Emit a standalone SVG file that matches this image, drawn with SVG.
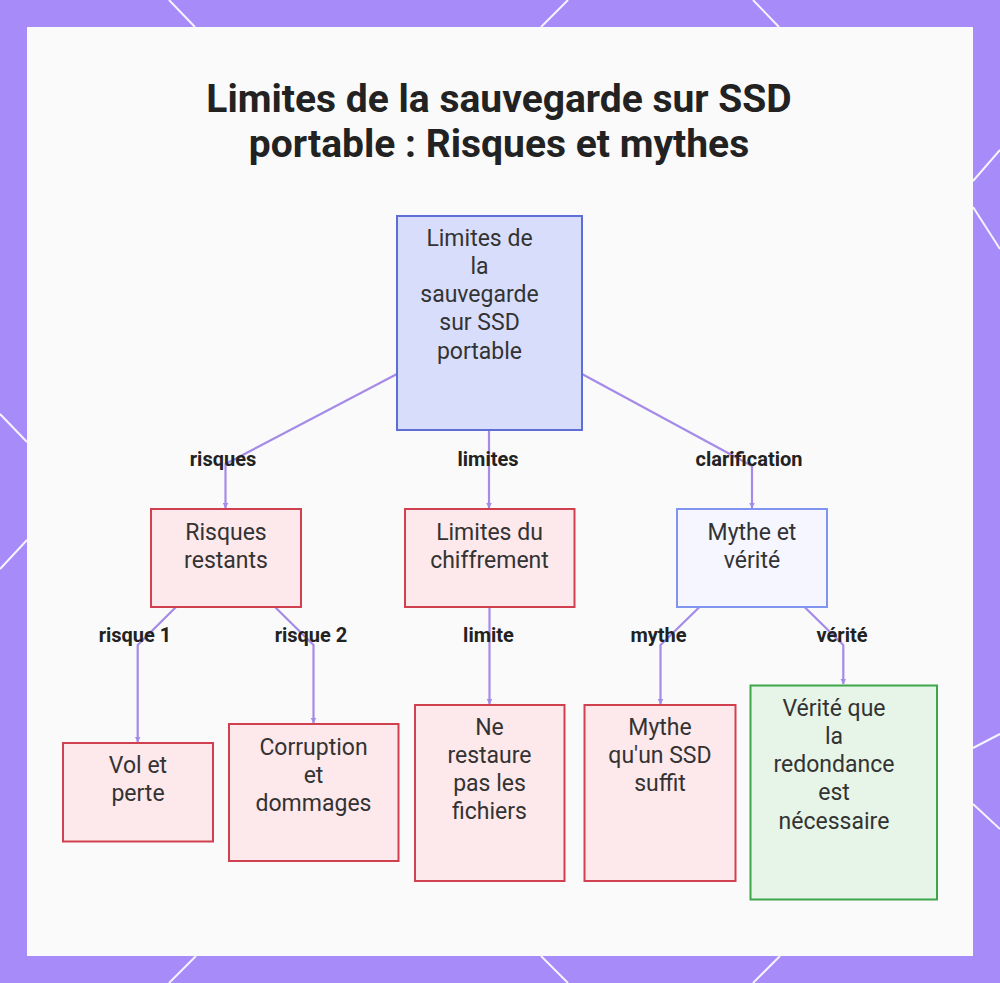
<svg xmlns="http://www.w3.org/2000/svg" width="1000" height="983" viewBox="0 0 1000 983">
<defs>
<style>
.frame{fill:#a78bf8}
.deco{stroke:#ffffff;stroke-width:2;fill:none;opacity:0.9}
.panel{fill:#fafafa}
.title{font-family:Roboto,"Liberation Sans",sans-serif;font-weight:700;font-size:39px;fill:#222222;text-anchor:middle}
.nt{font-family:Roboto,"Liberation Sans",sans-serif;font-size:23px;fill:#333333;text-anchor:middle}
.el{font-family:Roboto,"Liberation Sans",sans-serif;font-weight:700;font-size:20px;fill:#222222;text-anchor:middle}
.root{fill:#d9ddfc;stroke:#5d6fd6;stroke-width:2}
.red{fill:#fde8eb;stroke:#d0404f;stroke-width:2}
.blue{fill:#f5f6ff;stroke:#8095f0;stroke-width:2}
.green{fill:#e6f5e8;stroke:#3da64b;stroke-width:2}
.edge{fill:none;stroke:#a48be8;stroke-width:2.2;stroke-linejoin:round}
</style>
<marker id="arr" viewBox="0 0 6 6" refX="5.5" refY="3" markerWidth="6" markerHeight="6" markerUnits="userSpaceOnUse" orient="auto">
<path d="M0,0 L6,3 L0,6 Z" fill="#a48be8"/>
</marker>
</defs>

<rect class="frame" x="0" y="0" width="1000" height="983"/>
<g id="decor">
<line class="deco" x1="169" y1="0" x2="195" y2="27"/>
<line class="deco" x1="568" y1="0" x2="541" y2="27"/>
<line class="deco" x1="753" y1="0" x2="779" y2="27"/>
<line class="deco" x1="196" y1="956" x2="169" y2="983"/>
<line class="deco" x1="541" y1="956" x2="568" y2="983"/>
<line class="deco" x1="780" y1="956" x2="753" y2="983"/>
<line class="deco" x1="973" y1="181" x2="1000" y2="150"/>
<line class="deco" x1="973" y1="207" x2="1000" y2="249"/>
<line class="deco" x1="973" y1="748" x2="1000" y2="734"/>
<line class="deco" x1="973" y1="804" x2="1000" y2="829"/>
<line class="deco" x1="0" y1="414" x2="27" y2="442"/>
<line class="deco" x1="27" y1="540" x2="0" y2="569"/>
</g>
<rect class="panel" x="27" y="27" width="946" height="929"/>

<g id="title">
<text class="title" x="499" y="112">Limites de la sauvegarde sur SSD</text>
<text class="title" x="499" y="157">portable : Risques et mythes</text>
</g>

<g id="connectors">
<path class="edge" d="M397,374 L225.5,464 L225.5,508" marker-end="url(#arr)"/>
<path class="edge" d="M489,430 L489,508" marker-end="url(#arr)"/>
<path class="edge" d="M582,374 L752,466 L752,508" marker-end="url(#arr)"/>
<path class="edge" d="M176,607 L137.7,645 L137.7,742" marker-end="url(#arr)"/>
<path class="edge" d="M275,607 L313.5,645 L313.5,723" marker-end="url(#arr)"/>
<path class="edge" d="M489.5,607 L489.5,704" marker-end="url(#arr)"/>
<path class="edge" d="M699.5,607 L660.5,645 L660.5,704" marker-end="url(#arr)"/>
<path class="edge" d="M804.5,607 L843.3,645 L843.3,684" marker-end="url(#arr)"/>
<text class="el" x="223" y="466">risques</text>
<text class="el" x="488" y="466">limites</text>
<text class="el" x="749" y="466">clarification</text>
<text class="el" x="135" y="642">risque 1</text>
<text class="el" x="311" y="642">risque 2</text>
<text class="el" x="488.5" y="642">limite</text>
<text class="el" x="658.5" y="642">mythe</text>
<text class="el" x="842" y="642">vérité</text>
</g>

<g id="root">
<rect class="root" x="397" y="216" width="185" height="214"/>
<text class="nt" x="479.5" y="245.5">Limites de</text>
<text class="nt" x="479.5" y="273.8">la</text>
<text class="nt" x="479.5" y="302.1">sauvegarde</text>
<text class="nt" x="479.5" y="330.4">sur SSD</text>
<text class="nt" x="479.5" y="358.7">portable</text>
</g>

<g id="risques-restants">
<rect class="red" x="151" y="509" width="150" height="98"/>
<text class="nt" x="226" y="539.5">Risques</text>
<text class="nt" x="226" y="567.5">restants</text>
</g>

<g id="limites-chiffrement">
<rect class="red" x="405" y="509" width="169.5" height="98"/>
<text class="nt" x="489.5" y="539.5">Limites du</text>
<text class="nt" x="489.5" y="567.5">chiffrement</text>
</g>

<g id="mythe-verite">
<rect class="blue" x="677" y="509" width="150" height="98"/>
<text class="nt" x="752" y="539.5">Mythe et</text>
<text class="nt" x="752" y="567.5">vérité</text>
</g>

<g id="vol-perte">
<rect class="red" x="63" y="743" width="150" height="98.5"/>
<text class="nt" x="138" y="772.5">Vol et</text>
<text class="nt" x="138" y="801">perte</text>
</g>

<g id="corruption">
<rect class="red" x="229" y="724" width="169.5" height="137"/>
<text class="nt" x="313.5" y="754.5">Corruption</text>
<text class="nt" x="313.5" y="782.8">et</text>
<text class="nt" x="313.5" y="811.1">dommages</text>
</g>

<g id="ne-restaure">
<rect class="red" x="415" y="705" width="149.5" height="176"/>
<text class="nt" x="489.5" y="734.5">Ne</text>
<text class="nt" x="489.5" y="762.8">restaure</text>
<text class="nt" x="489.5" y="791.1">pas les</text>
<text class="nt" x="489.5" y="819.4">fichiers</text>
</g>

<g id="mythe-ssd">
<rect class="red" x="584.5" y="705" width="151" height="176"/>
<text class="nt" x="660" y="734.5">Mythe</text>
<text class="nt" x="660" y="762.8">qu'un SSD</text>
<text class="nt" x="660" y="791.1">suffit</text>
</g>

<g id="verite-redondance">
<rect class="green" x="750.5" y="685.5" width="186.5" height="214"/>
<text class="nt" x="834" y="715.5">Vérité que</text>
<text class="nt" x="834" y="743.8">la</text>
<text class="nt" x="834" y="772.1">redondance</text>
<text class="nt" x="834" y="800.4">est</text>
<text class="nt" x="834" y="828.7">nécessaire</text>
</g>
</svg>
